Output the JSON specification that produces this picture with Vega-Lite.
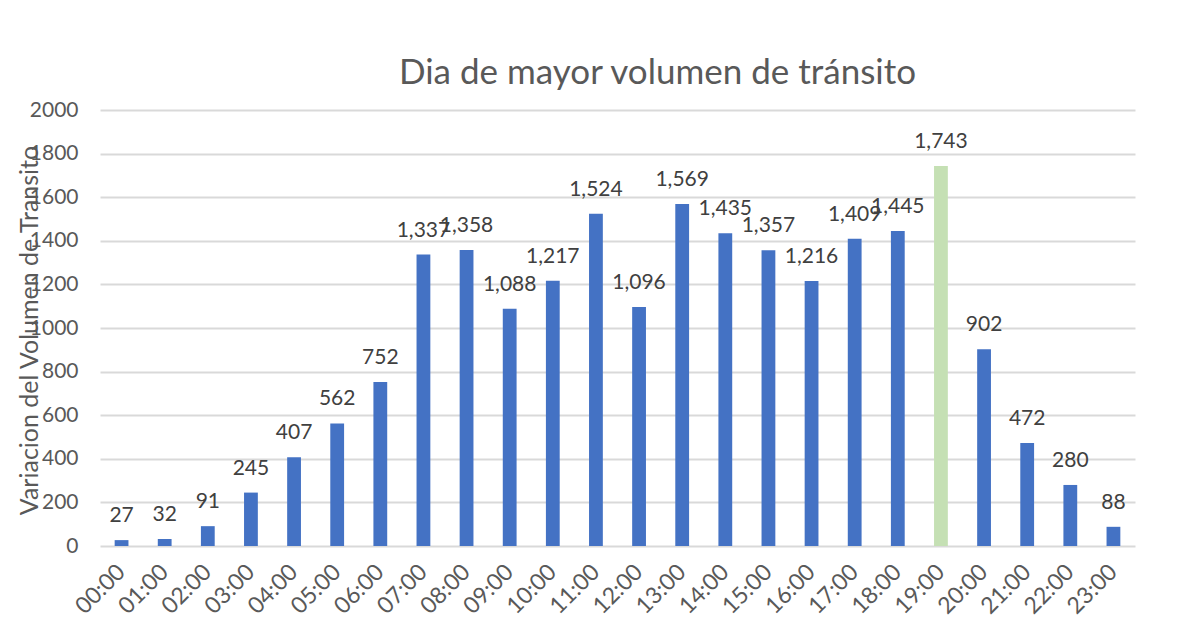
{
  "$schema": "https://vega.github.io/schema/vega-lite/v6.json",
  "autosize": "none",
  "width": 1035,
  "height": 436,
  "padding": {"left": 100, "top": 110, "right": 49, "bottom": 77},
  "background": "white",
  "config": {"view": {"stroke": null}, "font": "Lato"},
  "title": {
    "text": "Dia de mayor volumen de tránsito",
    "fontSize": 35,
    "font": "Lato",
    "fontWeight": "normal",
    "color": "#595959",
    "anchor": "middle",
    "dx": 40,
    "offset": 8
  },
  "data": {
    "values": [
      {"hora": "00:00", "v": 27, "max": false},
      {"hora": "01:00", "v": 32, "max": false},
      {"hora": "02:00", "v": 91, "max": false},
      {"hora": "03:00", "v": 245, "max": false},
      {"hora": "04:00", "v": 407, "max": false},
      {"hora": "05:00", "v": 562, "max": false},
      {"hora": "06:00", "v": 752, "max": false},
      {"hora": "07:00", "v": 1337, "max": false},
      {"hora": "08:00", "v": 1358, "max": false},
      {"hora": "09:00", "v": 1088, "max": false},
      {"hora": "10:00", "v": 1217, "max": false},
      {"hora": "11:00", "v": 1524, "max": false},
      {"hora": "12:00", "v": 1096, "max": false},
      {"hora": "13:00", "v": 1569, "max": false},
      {"hora": "14:00", "v": 1435, "max": false},
      {"hora": "15:00", "v": 1357, "max": false},
      {"hora": "16:00", "v": 1216, "max": false},
      {"hora": "17:00", "v": 1409, "max": false},
      {"hora": "18:00", "v": 1445, "max": false},
      {"hora": "19:00", "v": 1743, "max": true},
      {"hora": "20:00", "v": 902, "max": false},
      {"hora": "21:00", "v": 472, "max": false},
      {"hora": "22:00", "v": 280, "max": false},
      {"hora": "23:00", "v": 88, "max": false}
    ]
  },
  "encoding": {
    "x": {
      "field": "hora",
      "type": "ordinal",
      "sort": null,
      "scale": {"paddingInner": 0.68, "paddingOuter": 0.34},
      "axis": {
        "title": null,
        "labelAngle": -45,
        "labelAlign": "right",
        "labelBaseline": "middle",
        "labelPadding": 22,
        "labelFontSize": 23,
        "labelColor": "#595959",
        "labelOverlap": false,
        "ticks": false,
        "domain": false
      }
    },
    "y": {
      "field": "v",
      "type": "quantitative",
      "scale": {"domain": [0, 2000]},
      "axis": {
        "title": "Variacion del Volumen de Transito",
        "titleFontSize": 25,
        "titleFontWeight": "normal",
        "titleColor": "#595959",
        "titleX": -71,
        "titleY": 220,
        "titleAngle": -90,
        "titleAlign": "center",
        "titleBaseline": "middle",
        "values": [0, 200, 400, 600, 800, 1000, 1200, 1400, 1600, 1800, 2000],
        "format": "d",
        "labelFontSize": 21,
        "labelColor": "#595959",
        "labelPadding": 22,
        "ticks": false,
        "domain": false,
        "gridColor": "#D9D9D9",
        "gridWidth": 2
      }
    }
  },
  "layer": [
    {
      "mark": {"type": "bar"},
      "encoding": {
        "color": {
          "field": "max",
          "type": "nominal",
          "scale": {"domain": [false, true], "range": ["#4472C4", "#C5E0B4"]},
          "legend": null
        }
      }
    },
    {
      "mark": {"type": "text", "dy": -24, "fontSize": 21, "color": "#404040", "baseline": "middle"},
      "encoding": {
        "text": {"field": "v", "type": "quantitative", "format": ","}
      }
    }
  ]
}
